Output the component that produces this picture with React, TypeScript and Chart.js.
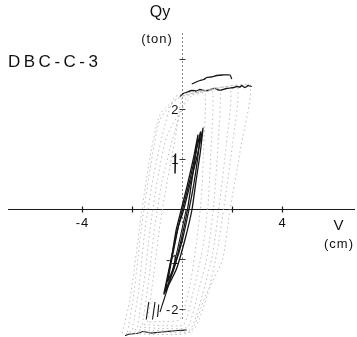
import React, { useEffect, useRef } from "react";
import { Chart, registerables } from "chart.js";
Chart.register(...registerables);

// axis ticks
const xTicks = [-4, -2, 2, 4];
const xTickLabels = ["-4", "", "", "4"];
const yTicks = [3, 2, 1, -1, -2];
const yTickLabels = ["", "2", "1", "-1", "-2"];

// gray dashed hysteresis loops (V cm, Qy ton)
const loop1X = [-1.4, -1.15, -0.9, -0.6, -0.3, 0.0, 0.5, 0.9, 0.85, 0.75, 0.55, 0.3, -0.1, -0.8, -1.4];
const loop1Y = [-2.25, -1.3, -0.3, 0.6, 1.4, 2.25, 2.3, 2.32, 1.3, 0.2, -0.7, -1.5, -2.2, -2.24, -2.25];
const loop2X = [-1.6, -1.35, -1.1, -0.8, -0.4, 0.2, 0.7, 1.2, 1.15, 1.02, 0.8, 0.45, 0.05, -0.8, -1.6];
const loop2Y = [-2.3, -1.4, -0.3, 0.6, 1.4, 2.28, 2.34, 2.38, 1.3, 0.1, -0.8, -1.6, -2.3, -2.32, -2.3];
const loop3X = [-1.8, -1.55, -1.3, -1.0, -0.6, 0.4, 1.0, 1.5, 1.42, 1.25, 1.0, 0.6, 0.2, -0.8, -1.8];
const loop3Y = [-2.35, -1.5, -0.4, 0.6, 1.5, 2.3, 2.36, 2.4, 1.3, 0.1, -0.9, -1.7, -2.35, -2.38, -2.35];
const loop4X = [-2.0, -1.75, -1.5, -1.15, -0.75, -0.3, 0.8, 1.9, 1.75, 1.5, 1.2, 0.8, 0.3, -0.9, -2.0];
const loop4Y = [-2.4, -1.6, -0.4, 0.7, 1.6, 2.25, 2.38, 2.43, 1.3, 0.2, -0.9, -1.7, -2.4, -2.42, -2.4];
const loop5X = [-2.2, -1.95, -1.65, -1.3, -0.9, -0.1, 1.2, 2.2, 2.0, 1.7, 1.4, 1.0, 0.4, -1.0, -2.2];
const loop5Y = [-2.45, -1.7, -0.4, 0.8, 1.8, 2.25, 2.4, 2.46, 1.3, 0.2, -0.8, -1.7, -2.43, -2.45, -2.45];
const loop6X = [-2.4, -2.1, -1.7, -1.35, -0.9, -0.1, 1.3, 2.7, 2.35, 1.9, 1.6, 0.9, 0.3, -1.0, -2.4];
const loop6Y = [-2.47, -1.8, -0.3, 0.9, 1.9, 2.25, 2.42, 2.47, 1.3, 0.0, -1.0, -1.75, -2.45, -2.5, -2.47];

// black small-amplitude cycles
const cyc1X = [-0.7, -0.45, -0.25, -0.05, 0.2, 0.45, 0.62, 0.5, 0.35, 0.2, -0.05, -0.35, -0.7];
const cyc1Y = [-1.65, -1.0, -0.4, 0.0, 0.5, 1.05, 1.49, 1.0, 0.5, 0.0, -0.6, -1.2, -1.65];
const cyc2X = [-0.75, -0.5, -0.2, 0.05, 0.35, 0.6, 0.82, 0.7, 0.55, 0.38, 0.1, -0.25, -0.75];
const cyc2Y = [-1.7, -1.1, -0.4, 0.0, 0.6, 1.1, 1.63, 1.1, 0.6, 0.0, -0.6, -1.2, -1.7];
const cyc3X = [-0.6, -0.35, -0.15, 0.05, 0.3, 0.72, 0.6, 0.45, 0.28, 0.0, -0.3, -0.6];
const cyc3Y = [-1.45, -0.8, -0.3, 0.1, 0.6, 1.55, 1.0, 0.5, 0.05, -0.6, -1.1, -1.45];
const cyc4X = [0.15, -0.2, -0.55, -0.9];
const cyc4Y = [0.0, -0.8, -1.5, -2.05];
const seg1X = [-0.3, -0.28];
const seg1Y = [0.72, 1.12];
const seg2X = [-1.35, -1.45];
const seg2Y = [-1.85, -2.2];
const seg3X = [-1.1, -1.2];
const seg3Y = [-1.85, -2.2];
const seg4X = [-0.95, -1.0];
const seg4Y = [-1.9, -2.15];

// envelopes
const topUpperX = [0.37, 0.55, 0.7, 0.85, 0.97, 1.15, 1.37, 1.6, 1.9, 1.97];
const topUpperY = [2.51, 2.55, 2.58, 2.6, 2.64, 2.65, 2.68, 2.69, 2.69, 2.61];
const topLowerX = [-0.1, 0.03, 0.2, 0.37, 0.55, 0.7, 0.85, 1.03, 1.15, 1.3, 1.45, 1.57, 1.75, 1.9, 2.05, 2.17, 2.3, 2.37, 2.5, 2.63, 2.77];
const topLowerY = [2.26, 2.32, 2.35, 2.38, 2.37, 2.4, 2.38, 2.38, 2.41, 2.42, 2.39, 2.39, 2.42, 2.43, 2.44, 2.46, 2.45, 2.48, 2.44, 2.48, 2.46];
const bottomX = [-2.3, -2.1, -1.83, -1.57, -1.3, -1.03, -0.6, -0.23, 0.17];
const bottomY = [-2.52, -2.49, -2.48, -2.44, -2.47, -2.46, -2.44, -2.42, -2.41];

const pts = (xs: number[], ys: number[]) => xs.map((x, i) => ({ x, y: ys[i] }));

const FONT = "'Liberation Sans', 'DejaVu Sans', sans-serif";

const axesPlugin = {
  id: "axesText",
  beforeDatasetsDraw(chart: any) {
    const { ctx } = chart;
    const xs = chart.scales.x;
    const ys = chart.scales.y;
    const X = (v: number) => xs.getPixelForValue(v);
    const Y = (v: number) => ys.getPixelForValue(v);
    ctx.save();
    // x axis
    ctx.strokeStyle = "#1a1a1a";
    ctx.lineWidth = 1.2;
    ctx.beginPath();
    ctx.moveTo(X(-6.98), Y(0));
    ctx.lineTo(X(6.9), Y(0));
    ctx.stroke();
    xTicks.forEach((t) => {
      ctx.beginPath();
      ctx.moveTo(X(t), Y(0) - 3);
      ctx.lineTo(X(t), Y(0) + 3);
      ctx.stroke();
    });
    // y axis dashed
    ctx.strokeStyle = "#888";
    ctx.lineWidth = 1;
    ctx.setLineDash([2, 2]);
    ctx.beginPath();
    ctx.moveTo(X(0), Y(3.53));
    ctx.lineTo(X(0), Y(-2.2));
    ctx.stroke();
    ctx.setLineDash([]);
    ctx.strokeStyle = "#333";
    yTicks.forEach((t) => {
      ctx.beginPath();
      ctx.moveTo(X(0) - 3, Y(t));
      ctx.lineTo(X(0) + 3, Y(t));
      ctx.stroke();
    });
    // tick labels
    ctx.fillStyle = "#111";
    ctx.font = `13px ${FONT}`;
    (ctx as any).letterSpacing = "1px";
    ctx.textAlign = "center";
    ctx.textBaseline = "top";
    xTicks.forEach((t, i) => {
      if (xTickLabels[i]) ctx.fillText(xTickLabels[i], X(t), Y(0) + 7);
    });
    ctx.textAlign = "right";
    ctx.textBaseline = "middle";
    yTicks.forEach((t, i) => {
      if (yTickLabels[i]) ctx.fillText(yTickLabels[i], X(0) - 3, Y(t) + 1);
    });
    // titles
    ctx.textAlign = "center";
    ctx.textBaseline = "alphabetic";
    (ctx as any).letterSpacing = "0px";
    ctx.font = `16px ${FONT}`;
    ctx.fillText("Qy", 160, 17);
    ctx.font = `13px ${FONT}`;
    (ctx as any).letterSpacing = "1px";
    ctx.fillText("(ton)", 157, 43);
    ctx.font = `15px ${FONT}`;
    ctx.fillText("V", 339, 230);
    ctx.font = `13px ${FONT}`;
    ctx.fillText("(cm)", 339, 248);
    ctx.textAlign = "left";
    ctx.font = `17px ${FONT}`;
    (ctx as any).letterSpacing = "3.5px";
    ctx.fillText("DBC-C-3", 8, 67);
    ctx.restore();
  },
};

export default function App() {
  const ref = useRef<HTMLCanvasElement>(null);
  useEffect(() => {
    if (!ref.current) return;
    const gray = (xs: number[], ys: number[]) => ({
      data: pts(xs, ys),
      showLine: true,
      borderColor: "#bdbdbd",
      borderWidth: 1,
      borderDash: [1.5, 3],
      pointRadius: 0,
      tension: 0.2,
    });
    const black = (xs: number[], ys: number[], w = 1.3) => ({
      data: pts(xs, ys),
      showLine: true,
      borderColor: "#151515",
      borderWidth: w,
      pointRadius: 0,
      tension: 0.15,
    });
    const chart = new Chart(ref.current, {
      type: "scatter",
      data: {
        datasets: [
          gray(loop1X, loop1Y),
          gray(loop2X, loop2Y),
          gray(loop3X, loop3Y),
          gray(loop4X, loop4Y),
          gray(loop5X, loop5Y),
          gray(loop6X, loop6Y),
          black(cyc1X, cyc1Y),
          black(cyc2X, cyc2Y),
          black(cyc3X, cyc3Y),
          black(cyc4X, cyc4Y, 1.1),
          black(seg1X, seg1Y, 1.5),
          black(seg2X, seg2Y, 1.1),
          black(seg3X, seg3Y, 1.1),
          black(seg4X, seg4Y, 1.1),
          black(topUpperX, topUpperY, 1.3),
          black(topLowerX, topLowerY, 1.3),
          black(bottomX, bottomY, 1.1),
        ] as any,
      },
      options: {
        animation: false,
        responsive: false,
        devicePixelRatio: 1,
        layout: { padding: 0 },
        plugins: { legend: { display: false }, tooltip: { enabled: false } },
        scales: {
          x: { type: "linear", min: -7.3, max: 6.98, display: false },
          y: { type: "linear", min: -2.55, max: 4.19, display: false },
        },
      },
      plugins: [axesPlugin],
    });
    return () => chart.destroy();
  }, []);
  return (
    <div style={{ position: "fixed", left: 0, top: 0, width: 357, height: 337, background: "#fff" }}>
      <canvas ref={ref} width={357} height={337} style={{ display: "block" }} />
    </div>
  );
}
